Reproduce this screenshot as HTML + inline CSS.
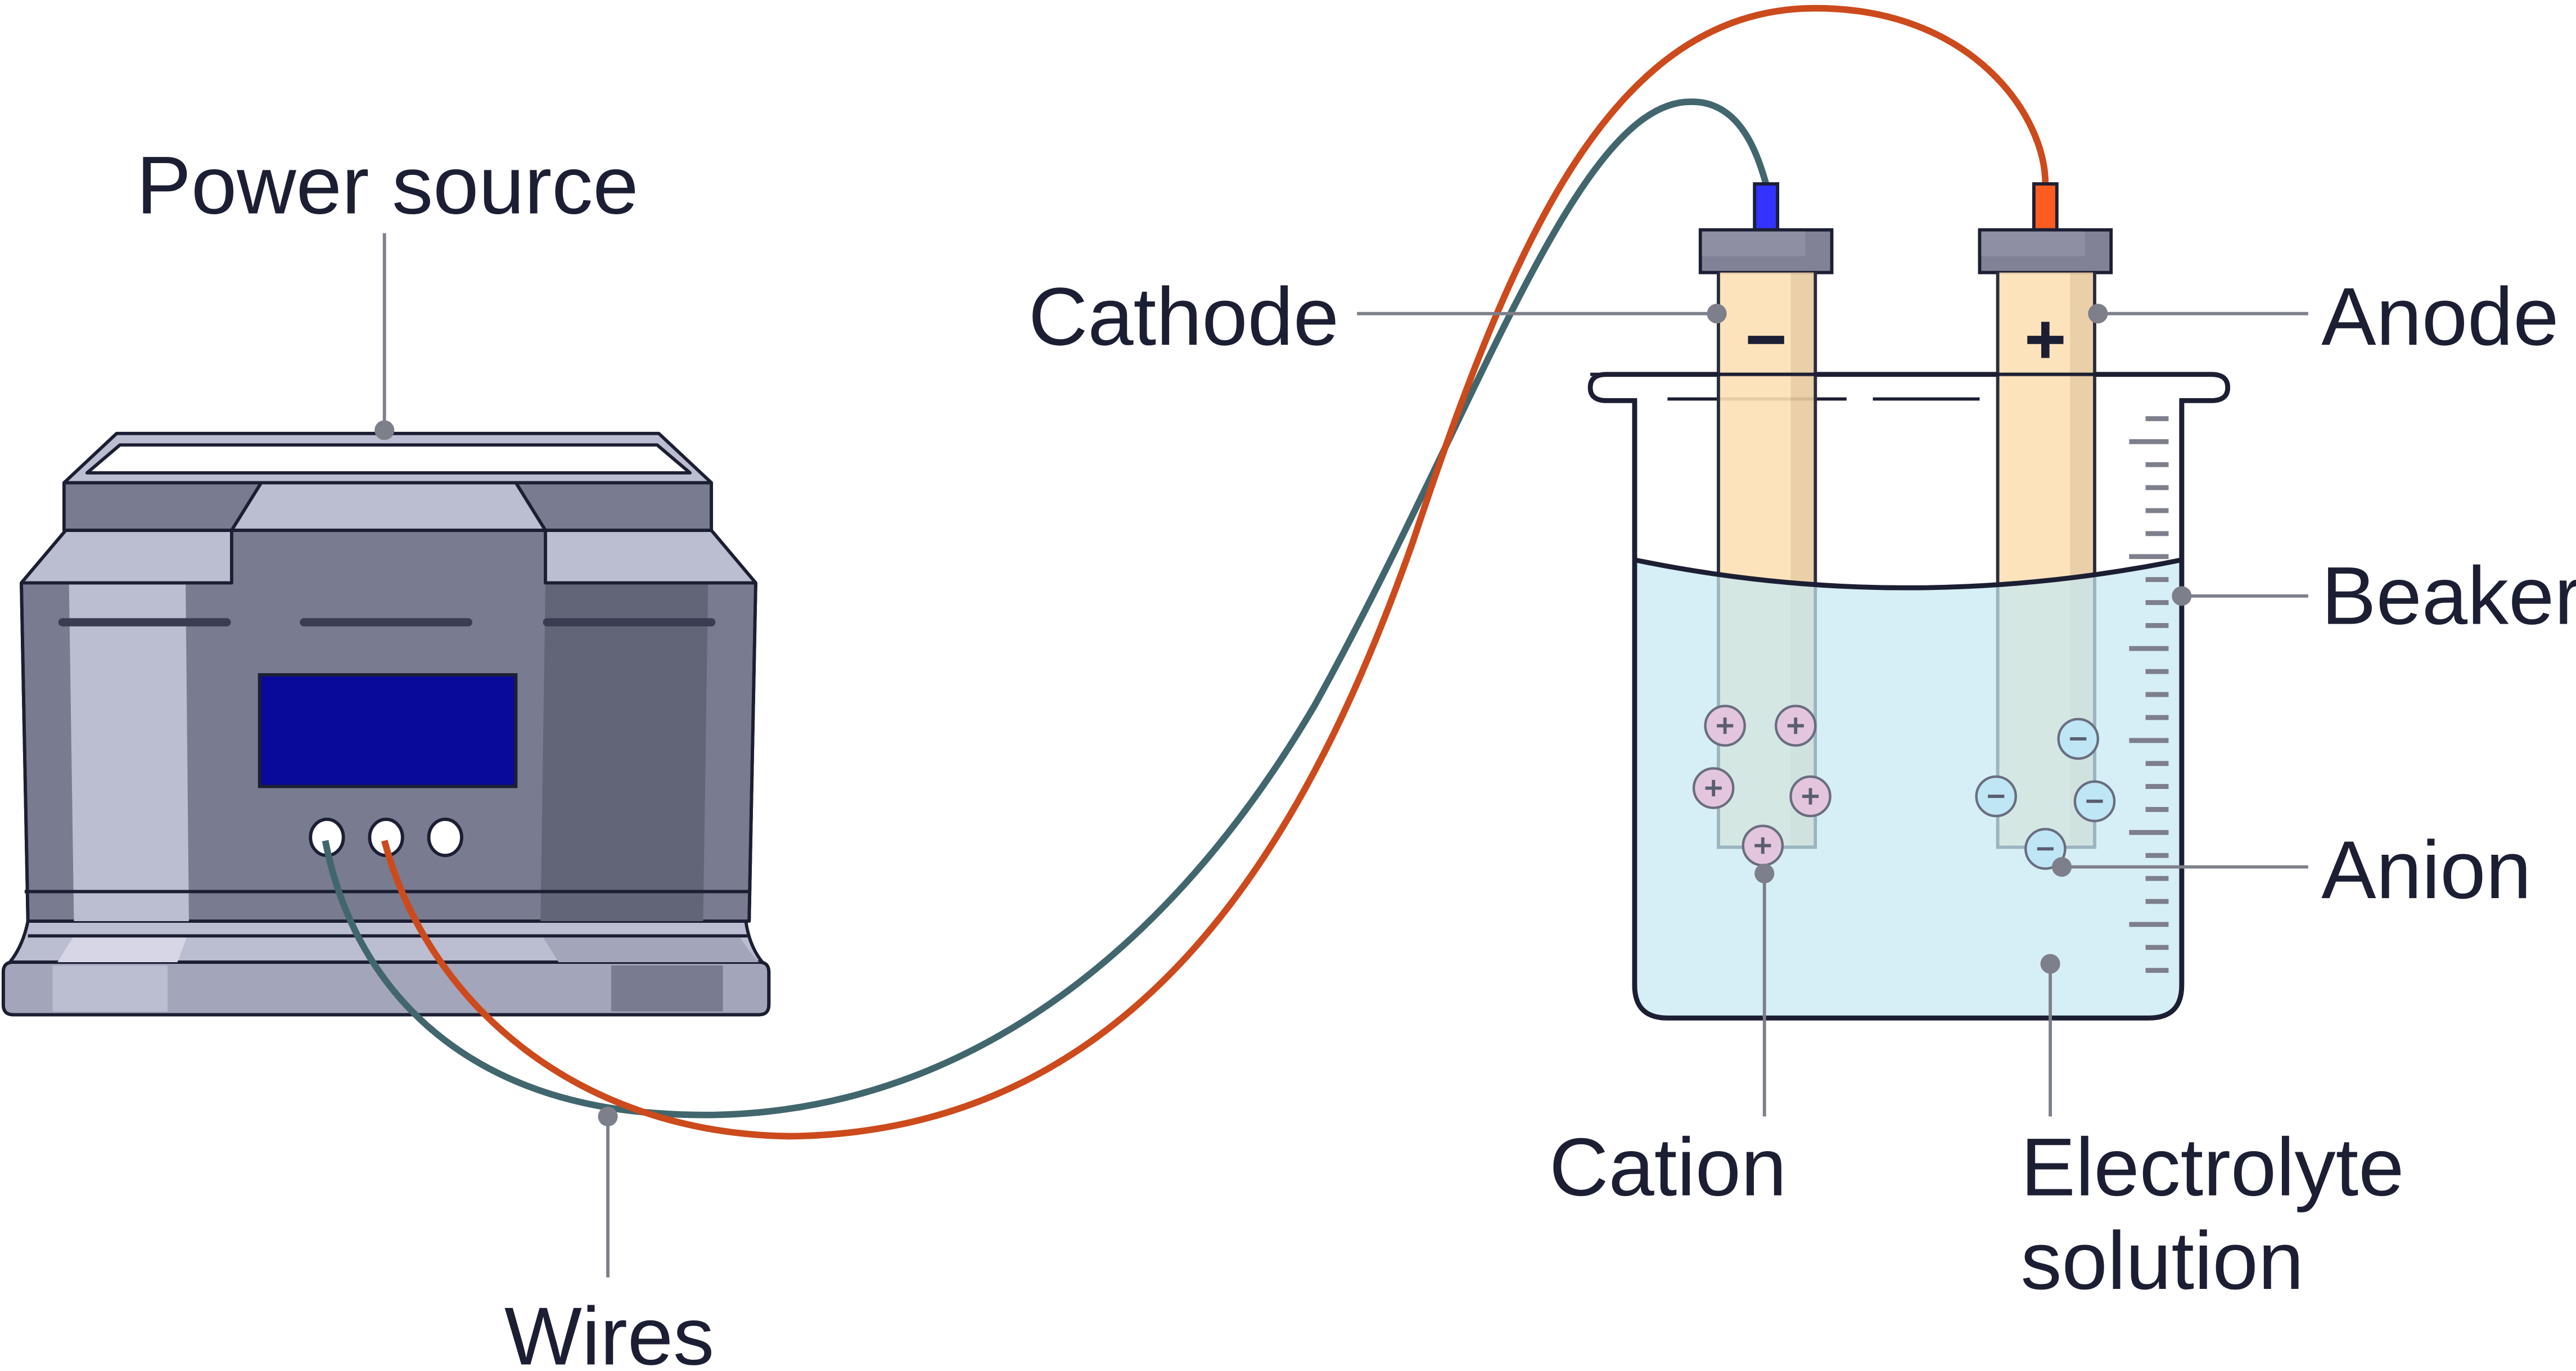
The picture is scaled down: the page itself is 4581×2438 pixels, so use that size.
<!DOCTYPE html>
<html><head><meta charset="utf-8"><style>
html,body{margin:0;padding:0;background:#fff;}
svg{display:block;}
text{font-family:"Liberation Sans",sans-serif;fill:#1c1f33;font-size:50px;}
</style></head><body>
<svg width="4581" height="2438" viewBox="0 0 1568 835" preserveAspectRatio="none" xmlns="http://www.w3.org/2000/svg">
<rect width="1568" height="835" fill="#fff"/>
<!-- Power source -->
<g stroke="#1c1f33" stroke-width="2" stroke-linejoin="round">
<path d="M2,592 Q2,586 8,586 L462,586 Q468,586 468,592 L468,612 Q468,618 462,618 L8,618 Q2,618 2,612 Z" fill="#a3a5ba"/>
</g>
<rect x="32" y="588" width="70" height="28" fill="#bbbdd1"/>
<rect x="372" y="588" width="68" height="28" fill="#797b90"/>
<path d="M2,592 Q2,586 8,586 L462,586 Q468,586 468,592 L468,612 Q468,618 462,618 L8,618 Q2,618 2,612 Z" fill="none" stroke="#1c1f33" stroke-width="2"/>
<path d="M17,561 L454,561 Q456,576 464,586 L6,586 Q14,576 17,561 Z" fill="#bbbdd1" stroke="#1c1f33" stroke-width="2"/>
<path d="M330,570 L450,570 Q456,580 462,586 L340,586 Z" fill="#a3a5ba"/>
<path d="M45,570 L114,570 L108,586 L35,586 Z" fill="#d6d6e6"/>
<g stroke="#1c1f33" stroke-width="2" stroke-linejoin="round">
<path d="M39,294 L71,264 L401,264 L433,294 Z" fill="#bbbdd1"/>
<path d="M73,271 L400,271 L420,288 L53,288 Z" fill="#fff"/>
<rect x="39" y="294" width="394" height="29" fill="#bbbdd1"/>
<path d="M39,294 L159,294 L141,323 L39,323 Z" fill="#797b90"/>
<path d="M314,294 L433,294 L433,323 L332,323 Z" fill="#797b90"/>
<path d="M13,355 L40,323 L433,323 L460,355 L456,561 L17,561 Z" fill="#797b90"/>
</g>
<path d="M42,356 L113,356 L115,561 L45,561 Z" fill="#bbbdd1"/>
<path d="M332,356 L431,356 L428,561 L329,561 Z" fill="#626478"/>
<g stroke="#1c1f33" stroke-width="2" fill="#bbbdd1" stroke-linejoin="round">
<path d="M40,323 L141,323 L141,355 L13,355 Z"/>
<path d="M332,323 L433,323 L460,355 L332,355 Z"/>
<path d="M13,355 L17,561 M460,355 L456,561" fill="none"/>
<line x1="17" y1="570" x2="456" y2="570"/>
</g>
<g stroke="#3a3c52" stroke-width="5" stroke-linecap="round">
<line x1="38" y1="379" x2="138" y2="379"/><line x1="185" y1="379" x2="285" y2="379"/><line x1="333" y1="379" x2="433" y2="379"/>
</g>
<line x1="15" y1="543" x2="457" y2="543" stroke="#1c1f33" stroke-width="2"/>
<rect x="158" y="411" width="156" height="68" fill="#0a0a9a" stroke="#1c1f33" stroke-width="2"/>
<g fill="#fff" stroke="#1c1f33" stroke-width="2"><ellipse cx="199" cy="510" rx="10" ry="11"/><ellipse cx="235" cy="510" rx="10" ry="11"/><ellipse cx="271" cy="510" rx="10" ry="11"/></g>
<!-- Wires -->
<path d="M198,512 C215,600 280,670 400,678 C560,690 700,600 800,430 C900,250 960,60 1030,62 C1060,62 1070,95 1075,112" fill="none" stroke="#41666e" stroke-width="4"/>
<path d="M234,512 C260,610 350,690 480,692 C700,690 800,500 860,330 C920,150 980,5 1105,5 C1200,5 1245,70 1245,112" fill="none" stroke="#cc4a1c" stroke-width="4"/>
<!-- Beaker rim -->
<path d="M978,228 L1346,228 Q1356,228 1356,236 Q1356,244 1346,244 L1328,244 L1328,600 Q1328,620 1308,620 L1015,620 Q995,620 995,600 L995,244 L978,244 Q968,244 968,236 Q968,228 978,228 Z" fill="#fff" stroke="#1c1f33" stroke-width="3"/>
<g stroke="#1c1f33" stroke-width="2"><line x1="1015" y1="243" x2="1124" y2="243"/><line x1="1140" y1="243" x2="1205" y2="243"/></g>
<!-- electrodes -->
<g stroke="#1c1f33" stroke-width="2">
<rect x="1068" y="112" width="14" height="28" fill="#3333ff"/>
<rect x="1238" y="112" width="14" height="28" fill="#ff5c22"/>
<rect x="1035" y="140" width="80" height="26" fill="#818296"/>
<rect x="1205" y="140" width="80" height="26" fill="#818296"/>
</g>
<rect x="1036" y="141" width="63" height="15" fill="#8e8fa2"/>
<rect x="1206" y="141" width="63" height="15" fill="#8e8fa2"/>
<g opacity="0.9">
<rect x="1046" y="166" width="59" height="350" fill="#fce0b5"/>
<rect x="1090" y="166" width="15" height="350" fill="#e8cba0"/>
<rect x="1216" y="166" width="59" height="350" fill="#fce0b5"/>
<rect x="1260" y="166" width="15" height="350" fill="#e8cba0"/>
</g>
<g fill="none" stroke="#2a2d3d" stroke-width="2">
<path d="M1046,166 V516 H1105 V166 M1216,166 V516 H1275 V166"/>
</g>
<line x1="968" y1="228" x2="1346" y2="228" stroke="#1c1f33" stroke-width="2"/>
<!-- liquid -->
<path d="M995,341 Q1160,375 1328,341 L1328,600 Q1328,620 1308,620 L1015,620 Q995,620 995,600 Z" fill="#c6e9f2" fill-opacity="0.72"/>
<path d="M995,341 Q1160,375 1328,341" fill="none" stroke="#1c1f33" stroke-width="3"/>
<path d="M995,244 L995,600 Q995,620 1015,620 L1308,620 Q1328,620 1328,600 L1328,244" fill="none" stroke="#1c1f33" stroke-width="3"/>
<g stroke="#7d7f8c" stroke-width="3">
<line x1="1306" y1="255" x2="1320" y2="255"/><line x1="1296" y1="269" x2="1320" y2="269"/><line x1="1306" y1="283" x2="1320" y2="283"/><line x1="1306" y1="297" x2="1320" y2="297"/><line x1="1306" y1="311" x2="1320" y2="311"/><line x1="1306" y1="325" x2="1320" y2="325"/><line x1="1296" y1="339" x2="1320" y2="339"/><line x1="1306" y1="353" x2="1320" y2="353"/><line x1="1306" y1="367" x2="1320" y2="367"/><line x1="1306" y1="381" x2="1320" y2="381"/><line x1="1296" y1="395" x2="1320" y2="395"/><line x1="1306" y1="409" x2="1320" y2="409"/><line x1="1306" y1="423" x2="1320" y2="423"/><line x1="1306" y1="437" x2="1320" y2="437"/><line x1="1296" y1="451" x2="1320" y2="451"/><line x1="1306" y1="465" x2="1320" y2="465"/><line x1="1306" y1="479" x2="1320" y2="479"/><line x1="1306" y1="493" x2="1320" y2="493"/><line x1="1296" y1="507" x2="1320" y2="507"/><line x1="1306" y1="521" x2="1320" y2="521"/><line x1="1306" y1="535" x2="1320" y2="535"/><line x1="1306" y1="549" x2="1320" y2="549"/><line x1="1296" y1="563" x2="1320" y2="563"/><line x1="1306" y1="577" x2="1320" y2="577"/><line x1="1306" y1="591" x2="1320" y2="591"/>
</g>
<g stroke="#1c1f33" stroke-width="5"><line x1="1064" y1="207" x2="1086" y2="207"/><line x1="1234" y1="207" x2="1256" y2="207"/><line x1="1245" y1="196" x2="1245" y2="218"/></g>
<!-- ions -->
<g stroke="#6a6d80" stroke-width="1.5">
<g fill="#e3c6de"><circle cx="1050" cy="442" r="12"/><circle cx="1093" cy="442" r="12"/><circle cx="1043" cy="480" r="12"/><circle cx="1102" cy="485" r="12"/><circle cx="1073" cy="515" r="12"/></g>
<g fill="#bfe6f4"><circle cx="1265" cy="450" r="12"/><circle cx="1215" cy="485" r="12"/><circle cx="1275" cy="488" r="12"/><circle cx="1245" cy="517" r="12"/></g>
</g>
<g stroke="#5a5d70" stroke-width="2">
<path d="M1045,442h10M1050,437v10M1088,442h10M1093,437v10M1038,480h10M1043,475v10M1097,485h10M1102,480v10M1068,515h10M1073,510v10"/>
<path d="M1260,450h10M1210,485h10M1270,488h10M1240,517h10"/>
</g>
<!-- leaders -->
<g stroke="#7d7f8a" stroke-width="2" fill="none">
<line x1="234" y1="142" x2="234" y2="262"/><line x1="826" y1="191" x2="1045" y2="191"/><line x1="1277" y1="191" x2="1405" y2="191"/><line x1="1328" y1="363" x2="1405" y2="363"/><line x1="1255" y1="528" x2="1405" y2="528"/><line x1="1074" y1="532" x2="1074" y2="680"/><line x1="1248" y1="587" x2="1248" y2="680"/><line x1="370" y1="680" x2="370" y2="778"/>
</g>
<g fill="#7d7f8a"><circle cx="234" cy="262" r="6"/><circle cx="1045" cy="191" r="6"/><circle cx="1277" cy="191" r="6"/><circle cx="1328" cy="363" r="6"/><circle cx="1255" cy="528" r="6"/><circle cx="1074" cy="532" r="6"/><circle cx="1248" cy="587" r="6"/><circle cx="370" cy="680" r="6"/></g>
<text x="83" y="130">Power source</text>
<text x="626" y="210">Cathode</text>
<text x="1413" y="210">Anode</text>
<text x="1413" y="380">Beaker</text>
<text x="1413" y="547">Anion</text>
<text x="943" y="728">Cation</text>
<text x="1230" y="728">Electrolyte</text>
<text x="1230" y="785">solution</text>
<text x="307" y="831">Wires</text>
</svg>
</body></html>
